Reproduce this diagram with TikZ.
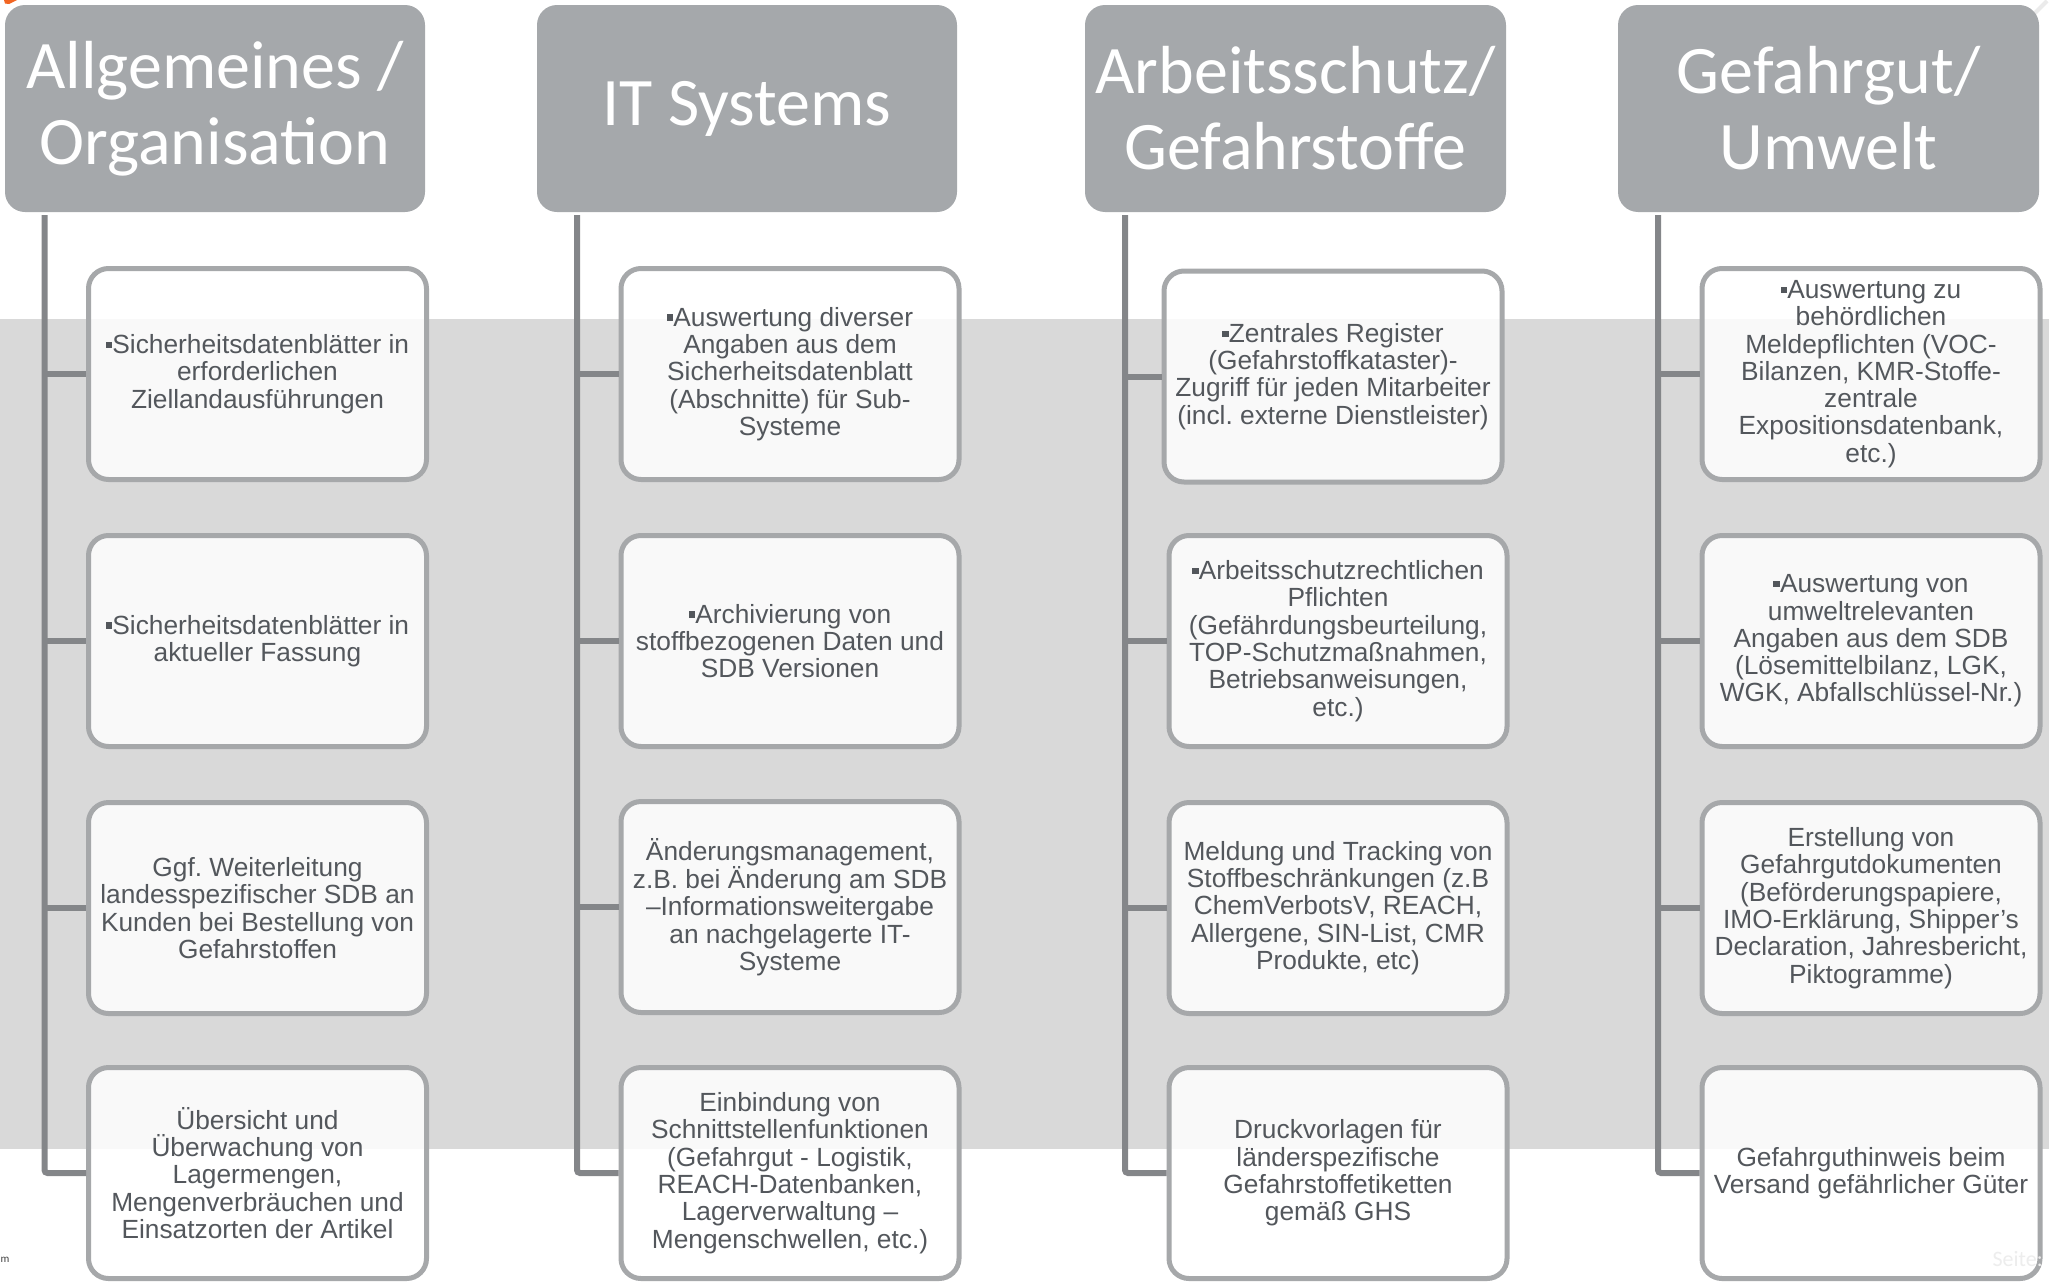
\documentclass[tikz,border=0pt]{standalone}
\usepackage{fontspec}
\setmainfont{Liberation Sans}
\newfontfamily\hdrfont{Carlito}
\definecolor{hdrgray}{HTML}{A5A8AB}
\definecolor{boxgray}{HTML}{A6A8AA}
\definecolor{conngray}{HTML}{848689}
\definecolor{txtgray}{HTML}{53575C}
\definecolor{bandgray}{HTML}{D9D9D9}
\definecolor{logoorange}{HTML}{F26522}
\newcommand{\bul}{\rule[0.2em]{0.25em}{0.25em}}
\frenchspacing
\begin{document}
\begin{tikzpicture}[x=1pt,y=-1pt,
  hdr/.style={rectangle, rounded corners=20pt, fill=hdrgray, text=white,
    minimum width=420pt, minimum height=207pt, inner sep=0pt, align=center,
    font=\hdrfont\fontsize{68}{76}\selectfont},
  item/.style={rectangle, rounded corners=20pt, draw=boxgray, line width=5pt,
    fill=white, fill opacity=0.85, text opacity=1, text=txtgray,
    minimum width=338pt, minimum height=211pt, inner sep=0pt, align=center,
    font=\frenchspacing\fontsize{26.3}{27.3}\selectfont},
  conn/.style={draw=conngray, line width=6pt}]
\useasboundingbox (0,0) rectangle (2049,1282);
% background band
\fill[bandgray] (0,319) rectangle (2049,1149);
% small artefacts at the edges
\fill[logoorange] (4,0) -- (17,0) -- (9,4) -- (5,3.5) -- cycle;
\draw[line width=4pt, color=black!8] (2034,14) -- (2047,1);
\node[anchor=base west, inner sep=0pt, text=black!75, font=\hdrfont\fontsize{11}{13}\selectfont] (mtxt) at (0.5,1262) {m};
% headers
\node[hdr] (h1) at (215,108.5) {Allgemeines /\\Organisation};
\node[hdr] (h2) at (747,108.5) {IT Systems};
\node[hdr, minimum width=421pt] (h3) at (1295.5,108.5) {Arbeitsschutz/\\Gefahrstoffe};
\node[hdr, minimum width=421pt] (h4) at (1828.5,108.5) {Gefahrgut/\\Umwelt};
% line x positions
\coordinate (l1) at (44.5,0);
\coordinate (l2) at (577,0);
\coordinate (l3) at (1125,0);
\coordinate (l4) at (1658,0);
% column 1
\node[item] (b11) at (257.5,374) {\bul Sicherheitsdatenblätter in\\erforderlichen\\Ziellandausführungen};
\node[item] (b12) at (257.5,641) {\bul Sicherheitsdatenblätter in\\aktueller Fassung};
\node[item] (b13) at (257.5,908) {Ggf. Weiterleitung\\landesspezifischer SDB an\\Kunden bei Bestellung von\\Gefahrstoffen};
\node[item] (b14) at (257.5,1173) {Übersicht und\\Überwachung von\\Lagermengen,\\Mengenverbräuchen und\\Einsatzorten der Artikel};
% column 2
\node[item] (b21) at (790,374) {\bul Auswertung diverser\\Angaben aus dem\\Sicherheitsdatenblatt\\(Abschnitte) für Sub-\\Systeme};
\node[item] (b22) at (790,641) {\bul Archivierung von\\stoffbezogenen Daten und\\SDB Versionen};
\node[item] (b23) at (790,907) {Änderungsmanagement,\\z.B. bei Änderung am SDB\\–Informationsweitergabe\\an nachgelagerte IT-\\Systeme};
\node[item] (b24) at (790,1173) {Einbindung von\\Schnittstellenfunktionen\\(Gefahrgut - Logistik,\\REACH-Datenbanken,\\Lagerverwaltung –\\Mengenschwellen, etc.)};
% column 3
\node[item] (b31) at (1333,376.5) {\bul Zentrales Register\\(Gefahrstoffkataster)-\\Zugriff für jeden Mitarbeiter\\(incl. externe Dienstleister)};
\node[item] (b32) at (1338,641) {\bul Arbeitsschutzrechtlichen\\Pflichten\\(Gefährdungsbeurteilung,\\TOP-Schutzmaßnahmen,\\Betriebsanweisungen,\\etc.)};
\node[item] (b33) at (1338,908) {Meldung und Tracking von\\Stoffbeschränkungen (z.B\\ChemVerbotsV, REACH,\\Allergene, SIN-List, CMR\\Produkte, etc)};
\node[item] (b34) at (1338,1173) {Druckvorlagen für\\länderspezifische\\Gefahrstoffetiketten\\gemäß GHS};
% column 4
\node[item] (b41) at (1871,374) {\bul Auswertung zu\\behördlichen\\Meldepflichten (VOC-\\Bilanzen, KMR-Stoffe-\\zentrale\\Expositionsdatenbank,\\etc.)};
\node[item] (b42) at (1871,641) {\bul Auswertung von\\umweltrelevanten\\Angaben aus dem SDB\\(Lösemittelbilanz, LGK,\\WGK, Abfallschlüssel-Nr.)};
\node[item] (b43) at (1871,908) {Erstellung von\\Gefahrgutdokumenten\\(Beförderungspapiere,\\IMO-Erklärung, Shipper’s\\Declaration, Jahresbericht,\\Piktogramme)};
\node[item] (b44) at (1871,1173) {Gefahrguthinweis beim\\Versand gefährlicher Güter};
% faint page label
\node[anchor=base west, text=black!7, font=\hdrfont\fontsize{22}{24}\selectfont] (seite) at (1989,1266) {Seite:};
% connectors
\foreach \c in {1,2,3,4}{
  \draw[conn, rounded corners=3pt] ([yshift=-3pt]h\c.south -| l\c) |- (b\c4.west);
  \foreach \r in {1,2,3}{
    \draw[conn] (b\c\r.west -| l\c) -- (b\c\r.west);
  }
}
\end{tikzpicture}
\end{document}
